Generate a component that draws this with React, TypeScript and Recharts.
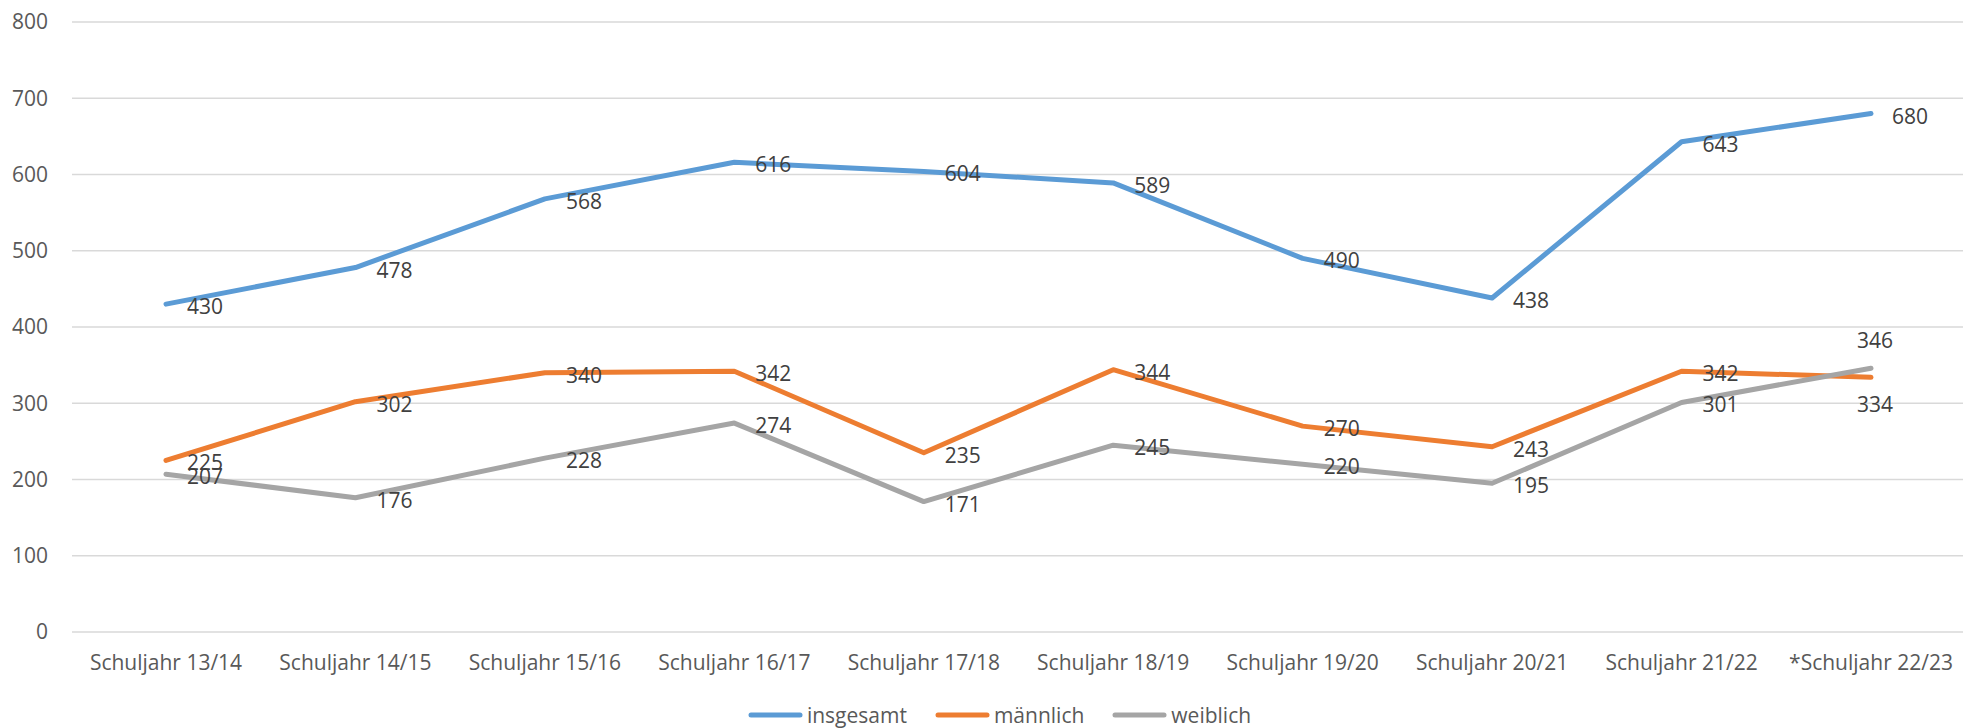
import { CartesianGrid, LabelList, Legend, Line, LineChart, XAxis, YAxis } from 'recharts'

const categories = [
  'Schuljahr 13/14',
  'Schuljahr 14/15',
  'Schuljahr 15/16',
  'Schuljahr 16/17',
  'Schuljahr 17/18',
  'Schuljahr 18/19',
  'Schuljahr 19/20',
  'Schuljahr 20/21',
  'Schuljahr 21/22',
  '*Schuljahr 22/23',
]
const insgesamt = [430, 478, 568, 616, 604, 589, 490, 438, 643, 680]
const maennlich = [225, 302, 340, 342, 235, 344, 270, 243, 342, 334]
const weiblich = [207, 176, 228, 274, 171, 245, 220, 195, 301, 346]
const yTicks = [0, 100, 200, 300, 400, 500, 600, 700, 800]

const series = [
  { key: 'insgesamt', name: 'insgesamt', color: '#5B9BD5' },
  { key: 'maennlich', name: 'männlich', color: '#ED7D31' },
  { key: 'weiblich', name: 'weiblich', color: '#A5A5A5' },
]

const data = categories.map((cat, i) => ({
  cat,
  insgesamt: insgesamt[i],
  maennlich: maennlich[i],
  weiblich: weiblich[i],
}))

const FONT = '"Open Sans", "Noto Sans", sans-serif'
const FS = 21

// label position per series: default to the right, a few moved above/below like in the original
const makeLabel = (placement: Record<number, 'above' | 'below'>) => (props: any) => {
  const { x, y, value, index } = props
  const pos = placement[index]
  let tx = x + 21
  let ty = y + 2
  let anchor: 'start' | 'middle' = 'start'
  if (pos === 'above') {
    tx = x + 4
    ty = y - 28
    anchor = 'middle'
  } else if (pos === 'below') {
    tx = x + 4
    ty = y + 27
    anchor = 'middle'
  }
  return (
    <text x={tx} y={ty} fill="#404040" fontSize={FS} fontFamily={FONT} textAnchor={anchor} dominantBaseline="central">
      {value}
    </text>
  )
}

const labelPlacement: Record<string, Record<number, 'above' | 'below'>> = {
  insgesamt: {},
  maennlich: { 9: 'below' },
  weiblich: { 9: 'above' },
}

function LegendContent() {
  return (
    <div
      style={{
        display: 'flex',
        justifyContent: 'center',
        gap: 28,
        paddingLeft: 36,
        fontFamily: FONT,
        fontSize: FS,
        lineHeight: '24px',
        color: '#595959',
      }}
    >
      {series.map((s) => (
        <div key={s.key} style={{ display: 'flex', alignItems: 'center', gap: 4 }}>
          <svg width={55} height={8}>
            <line x1={3} y1={4} x2={52} y2={4} stroke={s.color} strokeWidth={5} strokeLinecap="round" />
          </svg>
          <span>{s.name}</span>
        </div>
      ))}
    </div>
  )
}

export default function App() {
  return (
    <div style={{ position: 'absolute', left: 0, top: 0, background: '#fff' }}>
      <LineChart width={1963} height={728} data={data} margin={{ top: 22, right: 0, left: 0, bottom: 56 }}>
        <CartesianGrid vertical={false} stroke="#D9D9D9" strokeWidth={1.5} />
        <XAxis
          dataKey="cat"
          axisLine={false}
          tickLine={false}
          tickSize={0}
          tickMargin={23}
          height={40}
          interval={0}
          padding={{ left: 94, right: 92 }}
          tick={{ fill: '#595959', fontSize: FS, fontFamily: FONT }}
        />
        <YAxis
          domain={[0, 800]}
          ticks={yTicks}
          width={72}
          axisLine={false}
          tickLine={false}
          tickSize={0}
          tickMargin={24}
          tick={{ fill: '#595959', fontSize: FS, fontFamily: FONT }}
        />
        <Legend
          verticalAlign="middle"
          align="center"
          layout="horizontal"
          content={<LegendContent />}
          wrapperStyle={{ top: 703, left: 0, width: 1963 }}
        />
        {series.map((s) => (
          <Line
            key={s.key}
            dataKey={s.key}
            name={s.name}
            stroke={s.color}
            strokeWidth={5}
            strokeLinecap="round"
            strokeLinejoin="round"
            dot={false}
            activeDot={false}
            isAnimationActive={false}
          >
            <LabelList dataKey={s.key} content={makeLabel(labelPlacement[s.key])} />
          </Line>
        ))}
      </LineChart>
    </div>
  )
}
